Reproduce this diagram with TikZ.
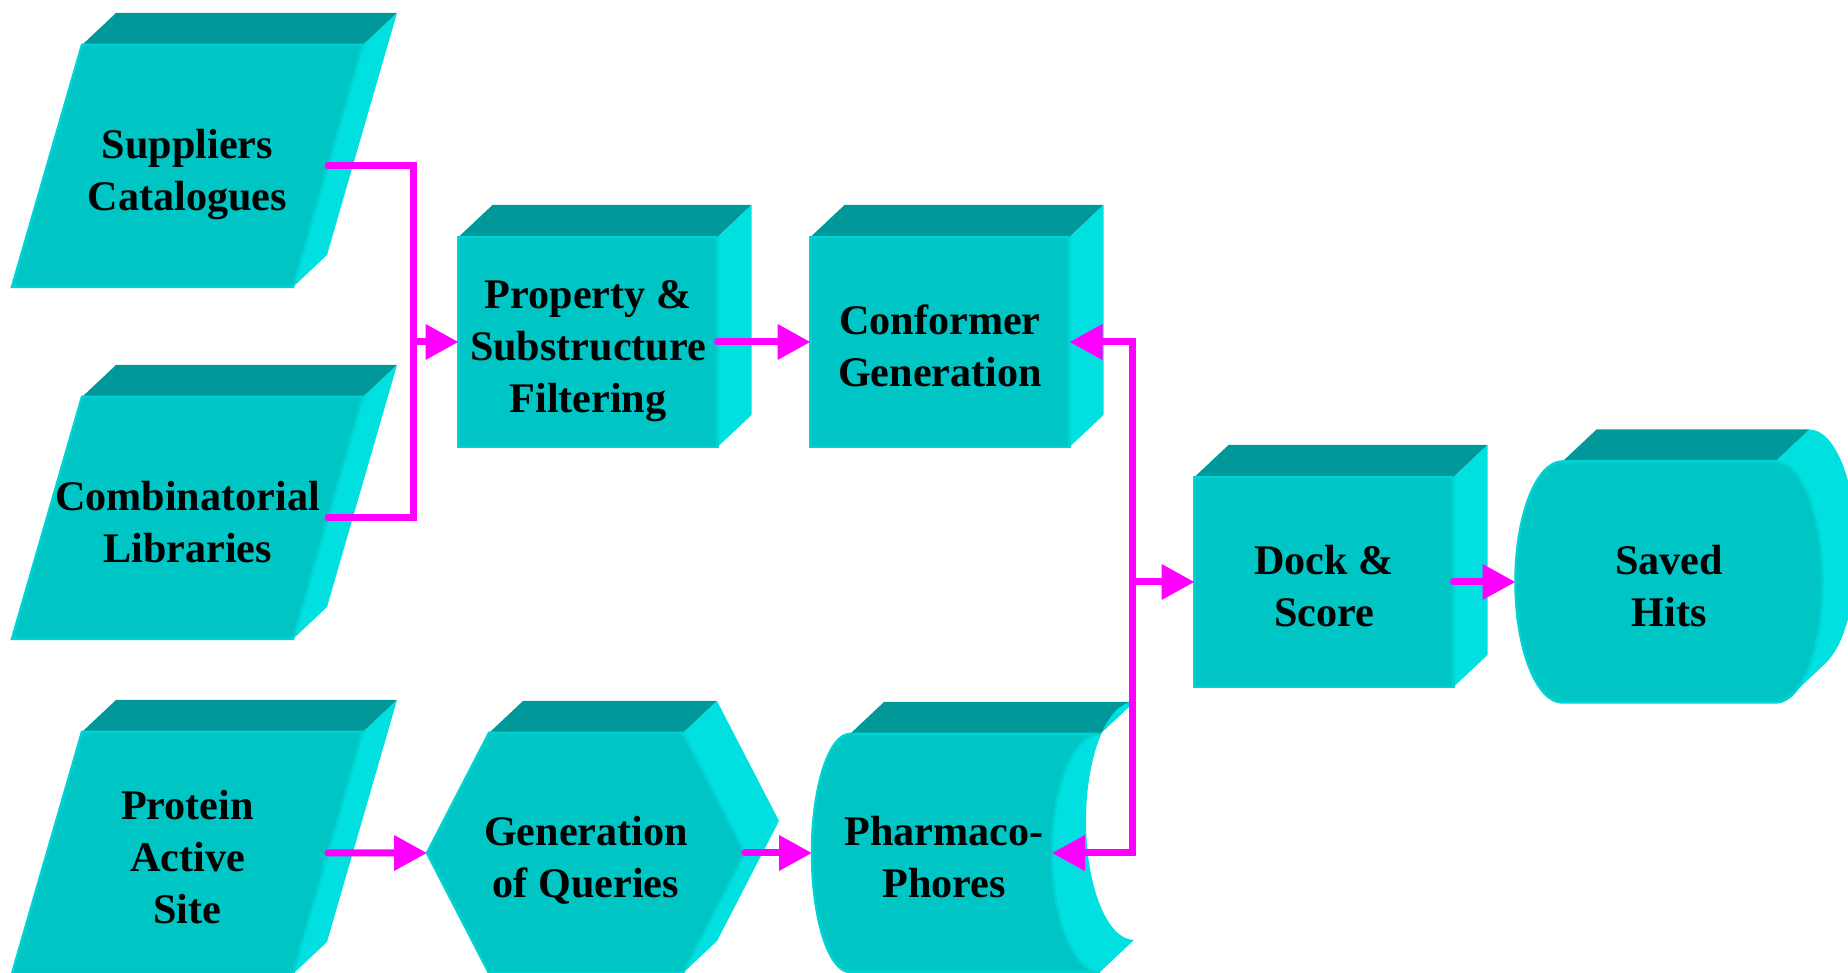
\documentclass[tikz,border=0pt]{standalone}
\usepackage{fontspec}
\setmainfont{Liberation Serif}
\usepackage{tikz}
\usetikzlibrary{positioning,arrows.meta,calc}
\definecolor{tealfront}{HTML}{00C5C5}
\definecolor{tealtop}{HTML}{009898}
\definecolor{tealside}{HTML}{00E0E0}
\definecolor{tealrim}{HTML}{00D3D3}
\definecolor{flowpink}{HTML}{FF00FF}
\pgfdeclarelayer{bg}
\pgfsetlayers{bg,main}
% taller first line, sets the labels a little lower in their blocks
\newcommand{\tstrut}{\rule{0pt}{10.8pt}}

% solid blocks, drawn behind the named text node #1
\newcommand{\cubeblock}[1]{%
  \begin{pgfonlayer}{bg}
    \begin{scope}[shift={(#1.center)}]
      \fill[topface] (-129.5,-105) -- ++(34,-32) -- ++(259,0) -- (129.5,-105) -- cycle;
      \fill[sideface] (129.5,-105) -- ++(34,-32) -- ++(0,210) -- (129.5,105) -- cycle;
      \filldraw[frontface] (-129.5,-105) rectangle (129.5,105);
    \end{scope}
  \end{pgfonlayer}}
\newcommand{\slantblock}[1]{%
  \begin{pgfonlayer}{bg}
    \begin{scope}[shift={(#1.center)}]
      \fill[topface] (-105.5,-121) -- ++(34,-32) -- ++(281,0) -- (175.5,-121) -- cycle;
      \fill[sideface] (175.5,-121) -- ++(34,-32) -- (139.5,89) -- (105.5,121) -- cycle;
      \filldraw[frontface] (-175.5,121) -- (-105.5,-121) -- (175.5,-121) -- (105.5,121) -- cycle;
    \end{scope}
  \end{pgfonlayer}}
\newcommand{\hexblock}[1]{%
  \begin{pgfonlayer}{bg}
    \begin{scope}[shift={(#1.center)}]
      \fill[topface] (-97,-120) -- ++(34,-32) -- (131,-152) -- (97,-120) -- cycle;
      \fill[sideface] (97,-120) -- (131,-152) -- (193,-32) -- (159,0) -- cycle;
      \fill[sideface] (159,0) -- (193,-32) -- (131,88) -- (97,120) -- cycle;
      \filldraw[frontface] (-159,0) -- (-97,-120) -- (97,-120) -- (159,0) -- (97,120) -- (-97,120) -- cycle;
    \end{scope}
  \end{pgfonlayer}}
\newcommand{\storeblock}[1]{%
  \begin{pgfonlayer}{bg}
    \begin{scope}[shift={(#1.center)}]
      \fill[topface] (-82,-119) -- ++(34,-32) -- (202,-151) -- (168,-119) -- cycle;
      \fill[sideface] (168,-119) -- (202,-151) arc[start angle=90,end angle=270,x radius=4.8mm,y radius=11.9mm]
        -- (168,119) arc[start angle=270,end angle=90,x radius=4.8mm,y radius=11.9mm] -- cycle;
      \filldraw[frontface] (-82,-119) arc[start angle=90,end angle=270,x radius=3.8mm,y radius=11.9mm]
        -- (168,119) arc[start angle=270,end angle=90,x radius=4.8mm,y radius=11.9mm] -- cycle;
    \end{scope}
  \end{pgfonlayer}}
\newcommand{\drumblock}[1]{%
  \begin{pgfonlayer}{bg}
    \begin{scope}[shift={(#1.center)}]
      \fill[topface] (-106.5,-120.5) -- ++(34,-32) -- (140.5,-152.5) -- (106.5,-120.5) -- cycle;
      \fill[sideface] (106.5,-120.5) -- (140.5,-152.5) arc[start angle=90,end angle=-69.8,x radius=4.7mm,y radius=12.05mm]
        -- ++(-34,32) arc[start angle=-69.8,end angle=90,x radius=4.7mm,y radius=12.05mm] -- cycle;
      \filldraw[frontface] (-106.5,-120.5) arc[start angle=90,end angle=270,x radius=4.7mm,y radius=12.05mm]
        -- (106.5,120.5) arc[start angle=-90,end angle=90,x radius=4.7mm,y radius=12.05mm] -- cycle;
    \end{scope}
  \end{pgfonlayer}}

\begin{document}
\begin{tikzpicture}[x=0.1mm,y=-0.1mm,
  font=\bfseries\fontsize{12}{14.8}\selectfont,
  frontface/.style={fill=tealfront,draw=tealrim,line width=0.25mm},
  topface/.style={fill=tealtop},
  sideface/.style={fill=tealside},
  blk/.style={inner sep=0pt,outer sep=0pt,align=center,text depth=0pt},
  cube/.style={blk,minimum width=25.9mm,minimum height=21mm},
  slant/.style={blk,minimum width=28.1mm,minimum height=24.2mm},
  hexa/.style={blk,minimum width=31.8mm,minimum height=24mm},
  store/.style={blk,minimum width=24mm,minimum height=23.8mm},
  drum/.style={blk,minimum width=30.7mm,minimum height=24.1mm},
  link/.style={line width=0.7mm,draw=flowpink,line cap=round},
  arr/.style={link,-{Triangle[length=3.3mm,width=3.4mm]}}]
  \useasboundingbox (0,0) rectangle (1848,973);
  \node[slant] (sup) at (187.5,166) {\tstrut Suppliers\\Catalogues};
  \node[slant,below=11mm of sup] (comb) {\tstrut Combinatorial\\Libraries};
  \node[slant,below=9.3mm of comb] (prot) {\tstrut Protein\\Active\\Site};
  \node[cube] (prop) at (588,342) {\tstrut Property \&\\Substructure\\Filtering};
  \node[cube,right=9.3mm of prop] (conf) {\tstrut Conformer\\Generation};
  \node[hexa] (qry) at (586,853) {\tstrut Generation\\of Queries};
  \node[store,right=6.7mm of qry] (pharm) {\tstrut\hspace*{2.4mm}Pharmaco-\\\hspace*{2.4mm}Phores};
  \node[cube] (dock) at (1324,582) {\tstrut Dock \&\\Score};
  \node[drum,right=6.2mm of dock] (hits) {\tstrut Saved\\Hits};
  \foreach \n in {sup,comb,prot} \slantblock{\n};
  \foreach \n in {prop,conf,dock} \cubeblock{\n};
  \hexblock{qry}
  \storeblock{pharm}
  \drumblock{hits}
  % joints of the two collecting lines
  \coordinate[left=4.5mm of prop] (j1);
  \coordinate[left=6.2mm of dock] (j2);
  \draw[link] (sup.east) -| (j1) |- (comb.east);
  \draw[arr] (j1) -- (prop.west);
  \draw[arr] (prop.east) -- (conf.west);
  \draw[arr] (j2) |- (conf.east);
  \draw[arr] (j2) |- (pharm.east);
  \draw[arr] (j2) -- (dock.west);
  \draw[arr] (dock.east) -- (hits.west);
  \draw[arr] (prot.east) -- (qry.west);
  \draw[arr] (qry.east) -- (pharm.west);
\end{tikzpicture}
\end{document}
